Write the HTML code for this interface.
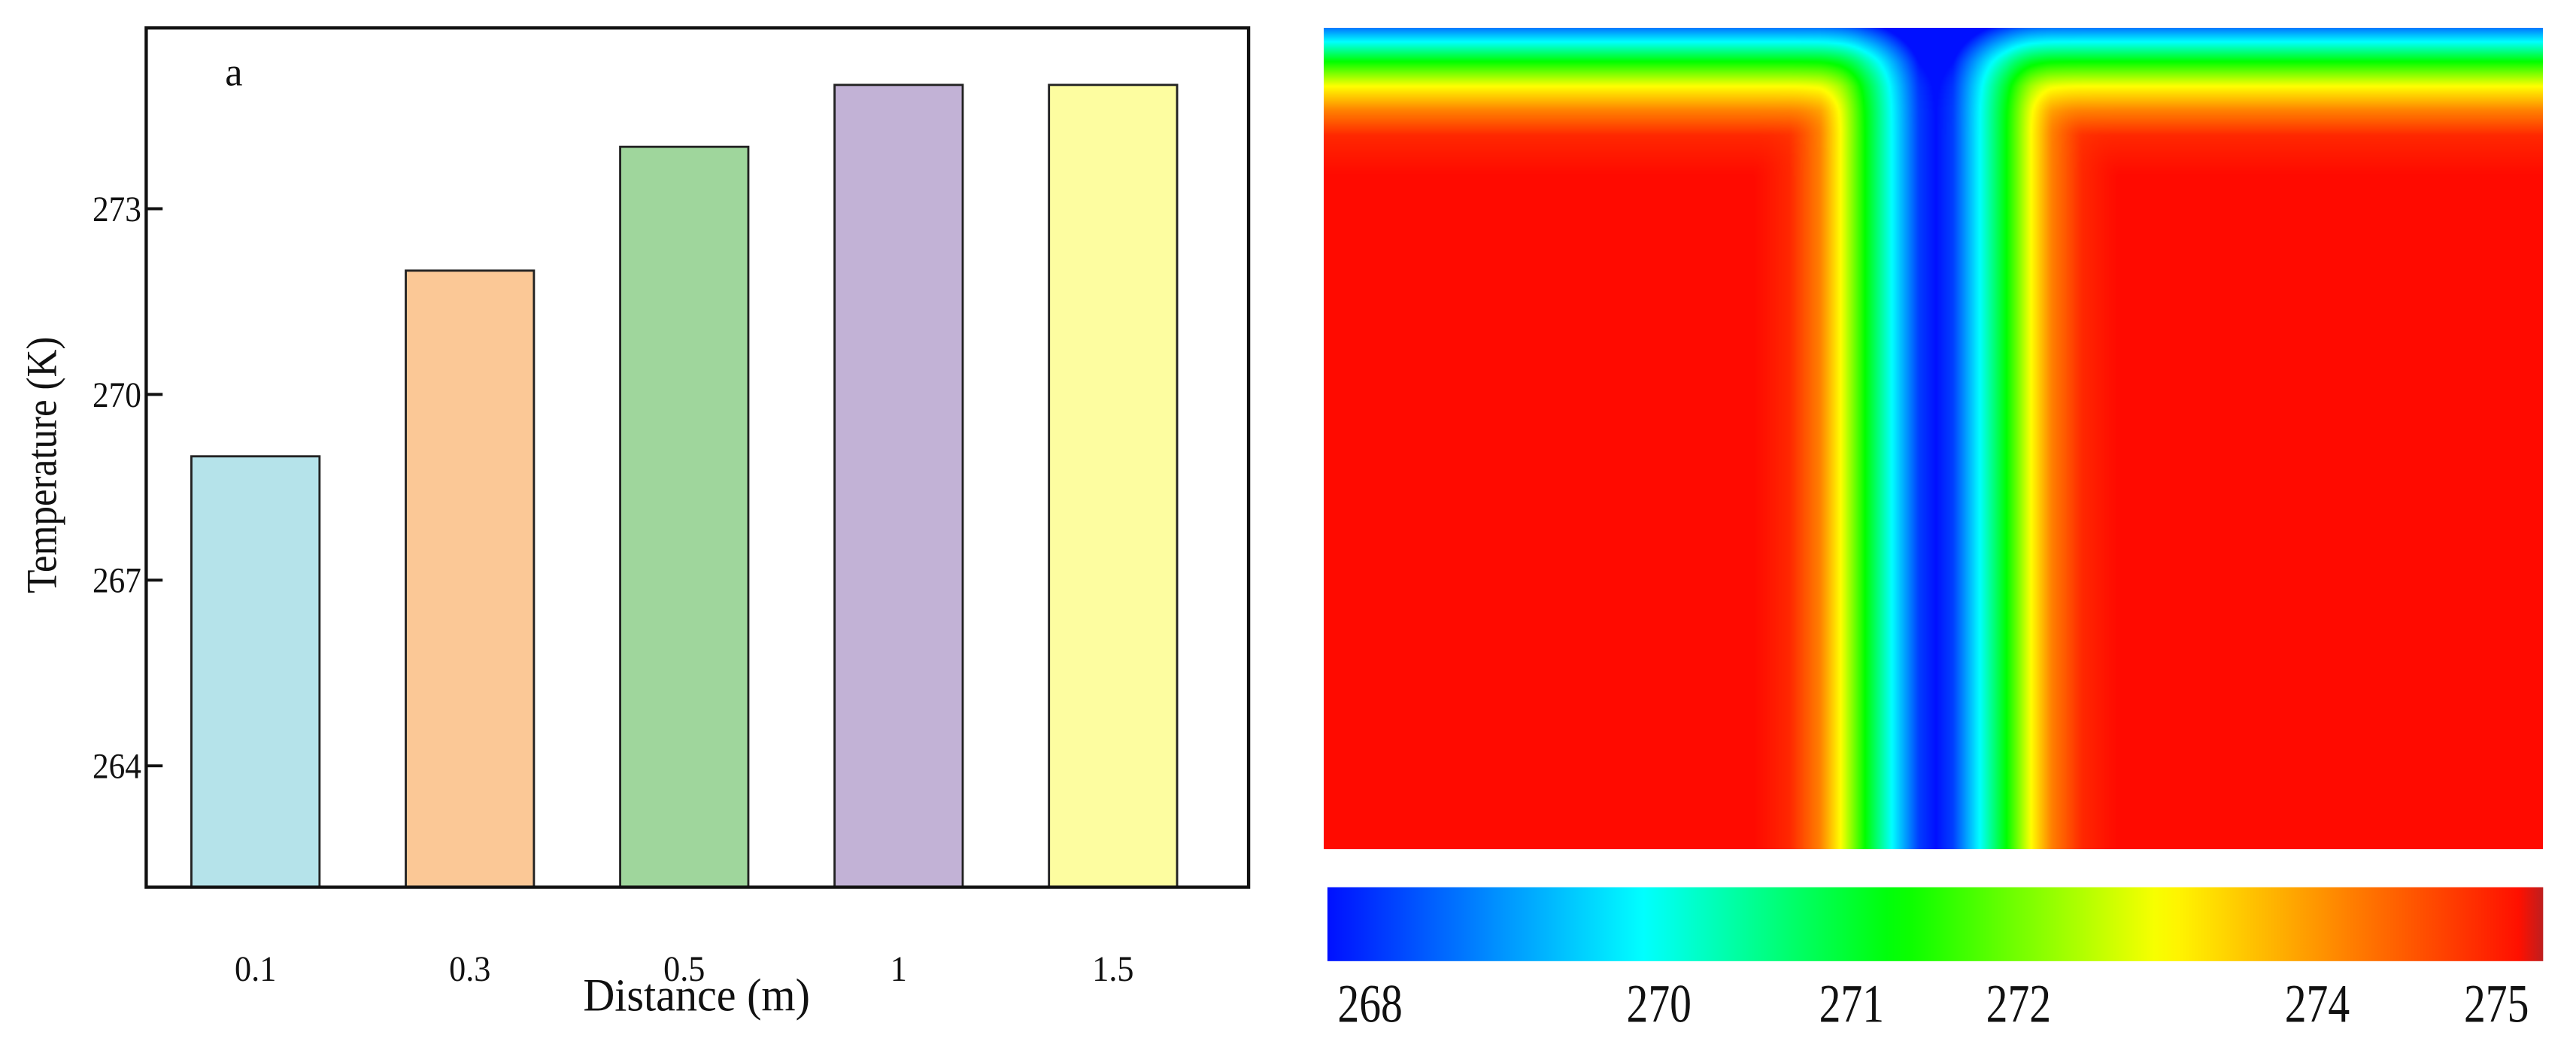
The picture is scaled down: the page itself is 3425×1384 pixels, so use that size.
<!DOCTYPE html>
<html><head><meta charset="utf-8"><style>
html,body{margin:0;padding:0;background:#fff;}
#wrap{position:relative;width:3425px;height:1384px;overflow:hidden;}
svg text{font-family:"Liberation Serif",serif;fill:#111;}
#heat{position:absolute;left:1760px;top:37px;width:1621px;height:1092px;}
</style></head><body>
<div id="wrap">
<svg id="chart" width="3425" height="1384" viewBox="0 0 1568 633.6" style="position:absolute;left:0;top:0"></svg>
<canvas id="heat" width="742" height="500"></canvas>
</div>
<script>
const categories = ["0.1","0.3","0.5","1","1.5"];
const temps = [269, 272, 274, 275, 275];
const barColors = ["#b5e3ea","#fbc896","#9fd69c","#c2b2d6","#fdfda0"];
const yTicks = [264, 267, 270, 273];
const cbarLabels = ["268","270","271","272","274","275"];
const cbarLabelPos = [0.011, 0.248, 0.406, 0.543, 0.788, 0.935];
// channel profile: distance from channel centre (fraction of panel width) -> colour index
const profX = [0, 0.014, 0.036, 0.058, 0.078, 0.095, 0.12, 0.15];
const profXv = [0, 0.05, 0.26, 0.47, 0.687, 0.84, 0.95, 0.99];
// top boundary profile: depth from top (fraction of panel height) -> colour index
const profY = [0, 0.016, 0.04, 0.07, 0.1, 0.13, 0.18];
const profYv = [0.12, 0.26, 0.47, 0.687, 0.84, 0.95, 0.99];

const NS="http://www.w3.org/2000/svg";
const svg=document.getElementById('chart');
function mk(tag,attrs,parent){const e=document.createElementNS(NS,tag);for(const k in attrs)e.setAttribute(k,attrs[k]);(parent||svg).appendChild(e);return e;}
function txt(s,x,y,size,anchor,sx,extra){const e=mk('text',Object.assign({transform:`translate(${x} ${y}) scale(${sx} 1)`,'font-size':size,'text-anchor':anchor},extra||{}));e.textContent=s;return e;}
const L=89,R=760,T=17,B=540,yMin=262.04,yMax=275.92;
const y=v=>B-(v-yMin)/(yMax-yMin)*(B-T);
const step=130.5, x0=155.5;
const x=i=>x0+i*step, bw=78;
categories.forEach((c,i)=>{
  const r=mk('rect',{x:x(i)-bw/2,y:y(temps[i]),width:bw,height:B-y(temps[i]),fill:barColors[i],stroke:'#222','stroke-width':1.3});
  
  
  const t=txt(c,x(i),597,22,'middle',0.92);
  
  
});
const fr=mk('rect',{x:L,y:T,width:R-L,height:B-T,fill:'none',stroke:'#111','stroke-width':2});


yTicks.forEach(v=>{
  const ln=mk('line',{x1:L,x2:L+10,y1:y(v),y2:y(v),stroke:'#111','stroke-width':1.8});
  
  
  const t=txt(String(v),L-3,y(v)+7.5,22,'end',0.9);
  
  
});
let t=txt('Distance (m)',424,615,28,'middle',0.95);

t=mk('text',{transform:'translate(34 283) rotate(-90) scale(0.9 1)','font-size':26,'text-anchor':'middle'});t.textContent='Temperature (K)';

t=txt('a',137,52,24,'start',1);


const stops=[[0,[0,16,255]],[0.26,[0,255,255]],[0.47,[0,255,0]],[0.687,[255,255,0]],[0.84,[255,128,0]],[0.99,[255,8,0]],[1,[190,30,30]]];
function cmap(v){v=Math.max(0,Math.min(1,v));for(let i=1;i<stops.length;i++){if(v<=stops[i][0]){const a=stops[i-1],b=stops[i],f=(v-a[0])/(b[0]-a[0]);return a[1].map((c,k)=>Math.round(c+(b[1][k]-c)*f));}}return stops[stops.length-1][1];}
const CL=808,CR=1548,CT=540,CB=585;
const defs=mk('defs',{});const g=mk('linearGradient',{id:'cb',x1:0,x2:1,y1:0,y2:0},defs);
for(let i=0;i<=50;i++){const c=cmap(i/50);mk('stop',{offset:i/50,'stop-color':`rgb(${c.join(',')})`},g);}
const cb=mk('rect',{x:CL,y:CT,width:CR-CL,height:CB-CT,fill:'url(#cb)'});

cbarLabels.forEach((s,i)=>{const tt=txt(s,806+cbarLabelPos[i]*742,622,33,'start',0.8);
  });
t=txt('b',837,59,24,'start',1);


function interp(xs,vs,d){if(d<=xs[0])return vs[0];for(let i=1;i<xs.length;i++)if(d<=xs[i]){const f=(d-xs[i-1])/(xs[i]-xs[i-1]);return vs[i-1]+(vs[i]-vs[i-1])*f;}return vs[vs.length-1];}
const cv=document.getElementById('heat'),ctx=cv.getContext('2d');
const W=cv.width,H=cv.height,img=ctx.createImageData(W,H);
const cx=(1178-806)/742;
for(let j=0;j<H;j++){const ty=interp(profY,profYv,j/H);
  for(let i=0;i<W;i++){const tx=interp(profX,profXv,Math.abs(i/W-cx));
    const a=1-tx,b=1-ty;const v=1-Math.pow(a*a*a+b*b*b,1/3);
    const c=cmap(v);const p=(j*W+i)*4;img.data[p]=c[0];img.data[p+1]=c[1];img.data[p+2]=c[2];img.data[p+3]=255;}}
ctx.putImageData(img,0,0);
</script>
</body></html>
